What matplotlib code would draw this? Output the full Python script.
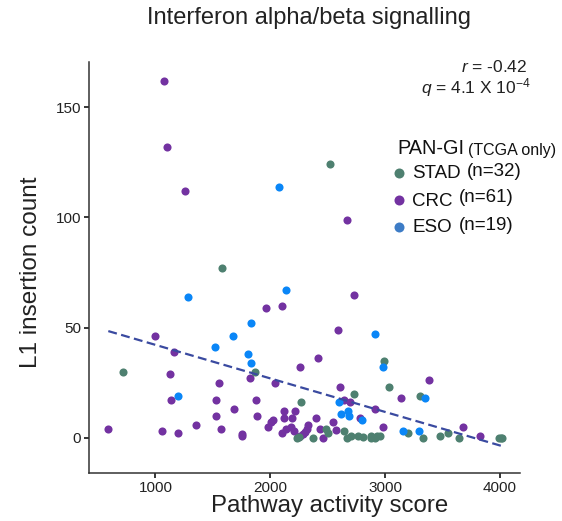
import numpy as np
import matplotlib
matplotlib.use("Agg")
import matplotlib.pyplot as plt

plt.rcParams['font.family'] = ['Liberation Sans', 'DejaVu Sans']
plt.rcParams['mathtext.fontset'] = 'custom'
plt.rcParams['mathtext.rm'] = 'Liberation Sans'
plt.rcParams['mathtext.it'] = 'Liberation Sans:italic'

# values
crc_x = [1074, 1100, 1259, 1959, 2104, 996, 1161, 2412, 2258, 1126, 1822, 1550,
         2043, 1138, 1524, 1872, 1683, 1527, 1881, 1352, 589, 1057, 1198, 1573,
         1755, 1755, 1982, 2005, 2025, 2121, 2217, 2118, 2191, 2394, 2136, 2179,
         2205, 2330, 2316, 2286, 2432, 2455, 2730, 2586, 3383, 2603, 3134, 2643,
         2693, 2910, 2780, 2983, 3679, 3830, 2667, 2548, 2571, 2240, 2300, 2100,
         2260]
crc_y = [162, 132, 112, 59, 60, 46, 39, 36, 32, 29, 27, 25,
         25, 17, 17, 17, 13, 10, 10, 6, 4, 3, 2, 4,
         1.5, 0.7, 5, 7, 8, 12, 12, 9, 9, 9, 4, 5,
         3, 6, 4, 1.5, 4, 0, 65, 49, 26, 23, 18, 17,
         16, 13, 9, 5, 5, 1, 99, 7, 3.5, 0.5, 2.5, 2,
         1]

stad_x = [2516, 1576, 720, 1863, 2264, 2229, 2368, 2484, 2504, 2643, 2664,
          2728, 2765, 2809, 2873, 2910, 2930, 2991, 3032, 3308, 3200, 3331,
          3482, 3548, 3644, 3990, 4022, 2954, 2880, 2700, 4005, 2250]
stad_y = [124, 77, 30, 30, 16, 0, 0, 4, 2, 3, 0,
          20, 1, 0.4, 1, 0, 1, 35, 23, 19, 2, 0,
          1, 2, 0, 0, 0, 1, 0, 1, 0, 0.5]

eso_x = [2075, 1280, 2133, 1829, 1677, 1518, 1802, 1831, 1198, 2913, 2980,
         3348, 2600, 2620, 2678, 2687, 2795, 3157, 3291]
eso_y = [114, 64, 67, 52, 46, 41, 38, 34, 19, 47, 32,
         18, 16, 11, 12, 10, 8, 3, 3]

# linear trend as drawn in the reference
trend_x = [589, 4013]
trend_y = [48.4, -3.7]

groups = ['STAD', 'CRC', 'ESO']
group_n = [32, 61, 19]
point_colors = {'STAD': '#4E8070', 'CRC': '#7332A1', 'ESO': '#0A86F7'}
legend_colors = {'STAD': '#4E8070', 'CRC': '#7332A1', 'ESO': '#3D7CC6'}

fig = plt.figure(figsize=(5.62, 5.21), dpi=100)
ax = fig.add_axes([0.1584, 0.0921, 0.7669, 0.7889])

ax.scatter(crc_x, crc_y, s=34, color=point_colors['CRC'], linewidths=0, zorder=2)
ax.scatter(stad_x, stad_y, s=34, color=point_colors['STAD'], linewidths=0, zorder=2)
ax.scatter(eso_x, eso_y, s=34, color=point_colors['ESO'], linewidths=0, zorder=2)

ax.plot(trend_x, trend_y, color='#3A4AA0', lw=1.6, ls=(0, (4, 2)), zorder=3)

ax.set_xlim(421, 4175)
ax.set_ylim(-16, 170.5)
ax.set_xticks([1000, 2000, 3000, 4000])
ax.set_yticks([0, 50, 100, 150])
for s in ['top', 'right']:
    ax.spines[s].set_visible(False)
for s in ['left', 'bottom']:
    ax.spines[s].set_color('#333333')
    ax.spines[s].set_linewidth(1.1)
ax.tick_params(length=3.6, width=1.1, color='black', labelsize=11,
               labelcolor='#222222', pad=2)

fig.text(309 / 562, 1 - 18 / 521, 'Interferon alpha/beta signalling',
         ha='center', va='center', fontsize=17, color='#222222')
fig.text(330 / 562, 1 - 506 / 521, 'Pathway activity score',
         ha='center', va='center', fontsize=17.3, color='#222222')
fig.text(31 / 562, 1 - 272 / 521, 'L1 insertion count', rotation=90,
         ha='center', va='center', fontsize=17.5, color='#222222')

fig.text(527 / 562, 1 - 67 / 521, '$r$ = -0.42', ha='right', va='center',
         fontsize=12.5, color='#222222')
fig.text(531 / 562, 1 - 88 / 521, '$q$ = 4.1 X 10$^{-4}$', ha='right', va='center',
         fontsize=12.5, color='#222222')

fig.text(397 / 562, 1 - 149 / 521, 'PAN-GI', ha='left', va='center',
         fontsize=14.3, color='#111111')
fig.text(468 / 562, 1 - 150 / 521, '(TCGA only)', ha='left', va='center',
         fontsize=11.5, color='#111111')
rows = [173, 200, 227]
n_x = [467, 459, 459]
for g, n, py, nx in zip(groups, group_n, rows, n_x):
    ax.plot([399 / 562], [1 - py / 521], marker='o', ms=7.2, color=legend_colors[g],
            mec='none', transform=fig.transFigure, clip_on=False)
    fig.text(412 / 562, 1 - (py + 1) / 521, g, ha='left', va='center',
             fontsize=13.5, color='#111111')
    fig.text(nx / 562, 1 - (py - 2) / 521, '(n=%d)' % n, ha='left', va='center',
             fontsize=13.5, color='#111111')

fig.savefig('out.png', dpi=100)
